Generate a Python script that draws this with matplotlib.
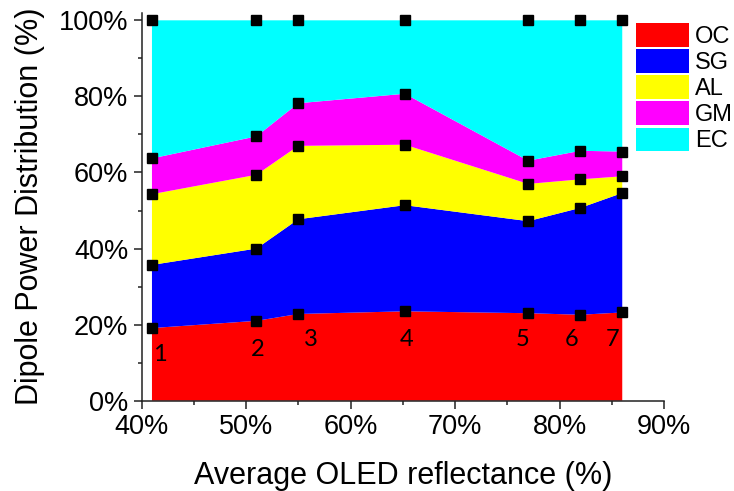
import numpy as np
import matplotlib
matplotlib.use('Agg')
import matplotlib.pyplot as plt
import matplotlib.ticker as tkr
from matplotlib.patches import Patch

# DATA
##############################################################################

reflectance = [41, 51, 55, 65.2, 77, 82, 86]          # average OLED reflectance (%)
oc = [19.1, 21.0, 22.8, 23.5, 23.0, 22.6, 23.2]
sg = [16.6, 19.0, 24.9, 27.9, 24.2, 28.1, 31.4]
al = [18.6, 19.4, 19.3, 15.9, 9.8, 7.5, 4.4]
gm = [9.4, 10.1, 11.2, 13.4, 6.1, 7.5, 6.5]
ec = [36.3, 30.5, 21.8, 19.3, 36.9, 34.3, 34.5]
point_labels = ['1', '2', '3', '4', '5', '6', '7']
series_names = ['OC', 'SG', 'AL', 'GM', 'EC']
series_colors = ['#ff0000', '#0000ff', '#ffff00', '#ff00ff', '#00ffff']

# label offsets from the OC point, in pixels
label_dx = [7.5, 1.2, 13, 1.2, -5.5, -8.8, -9.6]
label_dy = [-26, -28.4, -26, -28, -26, -25, -27]

##############################################################################

plt.rcParams['font.family'] = ['Liberation Sans', 'DejaVu Sans']

fig = plt.figure(figsize=(7.34, 4.91), dpi=100)
ax = fig.add_axes([0.1928, 0.1839, 0.7119, 0.7902])

layers = [oc, sg, al, gm, ec]
ax.stackplot(reflectance, *layers, colors=series_colors, lw=0)

# black square markers on every boundary
cum = np.cumsum(np.array(layers), axis=0)
for row in cum:
    ax.plot(reflectance, row, ls='none', marker='s', ms=6.8, c='black',
            clip_on=False, zorder=5)

for x, y, lab, dx, dy in zip(reflectance, oc, point_labels, label_dx, label_dy):
    ax.annotate(lab, xy=(x, y), xytext=(dx, dy), textcoords='offset pixels',
                ha='center', va='center', fontsize=17, family=['Lato', 'DejaVu Sans'])

ax.set_xlim(40, 90)
ax.set_ylim(0, 102)
ax.xaxis.set_major_locator(tkr.MultipleLocator(10))
ax.xaxis.set_minor_locator(tkr.MultipleLocator(5))
ax.yaxis.set_major_locator(tkr.MultipleLocator(20))
ax.yaxis.set_minor_locator(tkr.MultipleLocator(10))
ax.xaxis.set_major_formatter(tkr.FuncFormatter(lambda v, _: f'{v:.0f}%'))
ax.yaxis.set_major_formatter(tkr.FuncFormatter(lambda v, _: f'{v:.0f}%'))

for side in ['top', 'right']:
    ax.spines[side].set_visible(False)
for side in ['left', 'bottom']:
    ax.spines[side].set_linewidth(1.1)
    ax.spines[side].set_color('#222222')

ax.tick_params(which='major', direction='out', length=5.5, width=1.1, color='#222222',
               labelsize=19.5)
ax.tick_params(which='minor', direction='out', length=3.1, width=1.1, color='#222222')
ax.tick_params(axis='x', which='major', pad=4)
ax.tick_params(axis='y', which='major', pad=4)

ax.set_xlabel('Average OLED reflectance (%)', fontsize=22, labelpad=15)
ax.set_ylabel('Dipole Power Distribution (%)', fontsize=22, labelpad=10)

handles = [Patch(facecolor=c, edgecolor='none', label=n)
           for c, n in zip(series_colors, series_names)]
fig.legend(handles=handles, loc='upper left', bbox_to_anchor=(635.7 / 734, 1 - 23.3 / 491),
           frameon=False, fontsize=17, handlelength=2.25, handleheight=1.14,
           labelspacing=0.06, handletextpad=0.25, borderpad=0, borderaxespad=0)

fig.savefig('out.png', dpi=100, facecolor='white')
